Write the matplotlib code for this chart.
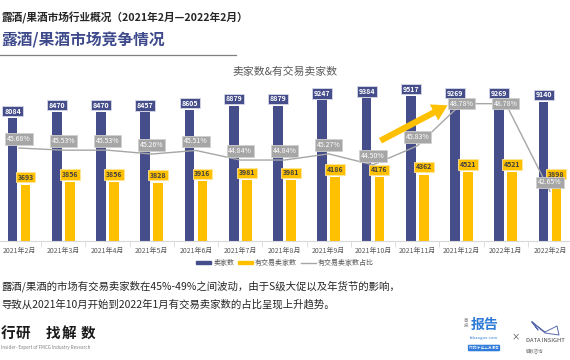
#!/usr/bin/env python3
"""
露酒/果酒市场竞争情况: seller count vs. trading seller count, with share line.
"""

import numpy as np
import matplotlib
matplotlib.use("Agg")
import matplotlib.pyplot as plt
from matplotlib.patches import FancyArrowPatch, Patch
from matplotlib.lines import Line2D

plt.rcParams['font.family'] = ['Noto Sans CJK SC', 'DejaVu Sans']

# Data
months = ['2021年2月', '2021年3月', '2021年4月', '2021年5月', '2021年6月', '2021年7月',
          '2021年8月', '2021年9月', '2021年10月', '2021年11月', '2021年12月',
          '2022年1月', '2022年2月']
sellers = [8084, 8470, 8470, 8457, 8605, 8879, 8879, 9247, 9384, 9517, 9269, 9269, 9140]
trading_sellers = [3693, 3856, 3856, 3828, 3916, 3981, 3981, 4186, 4176, 4362, 4521, 4521, 3898]
trading_share = [45.68, 45.53, 45.53, 45.26, 45.51, 44.84, 44.84, 45.27, 44.50, 45.83,
                 48.78, 48.78, 42.65]

NAVY = '#454E8A'
GOLD = '#FFC000'
GREY = '#A6A6A6'
W, H = 570, 360


def fx(px):
    return px / W


def fy(py):
    return 1 - py / H


fig = plt.figure(figsize=(5.7, 3.6), dpi=100)

# Header
fig.text(fx(1), fy(18), '露酒/果酒市场行业概况（2021年2月—2022年2月）', fontsize=7.7,
         fontweight='bold', color='#262626', va='center', ha='left')
fig.text(fx(1), fy(40), '露酒/果酒市场竞争情况', fontsize=11.3, fontweight='bold',
         color='#3F4A8C', va='center', ha='left')
fig.add_artist(Line2D([0, fx(236)], [fy(55), fy(55)], color='#7F7F7F', lw=0.9))

fig.text(fx(285), fy(72), '卖家数&有交易卖家数', fontsize=7.8, color='#595959',
         ha='center', va='center')

# Chart
x = np.arange(len(months))
ax = fig.add_axes([0, fy(241), 1, (241 - 78) / H])
ax.set_xlim(-19 / 44.25, (W - 19) / 44.25)
ax.set_ylim(0, 10713)

bw = 0.22
off = 0.145
ax.bar(x - off, sellers, width=bw, color=NAVY, zorder=2)
ax.bar(x + off, trading_sellers, width=bw, color=GOLD, zorder=2)

for s in ['top', 'left', 'right']:
    ax.spines[s].set_visible(False)
ax.spines['bottom'].set_color('#D9D9D9')
ax.spines['bottom'].set_linewidth(0.8)
ax.set_yticks([])
ax.set_xticks(x)
ax.set_xticklabels(months, fontsize=5, color='#595959')
ax.tick_params(axis='x', which='major', length=0, pad=4)
ax.set_xticks(x[:-1] + 0.5, minor=True)
ax.tick_params(axis='x', which='minor', length=4, color='#D9D9D9', width=0.6)

for xi, v in zip(x, sellers):
    ax.annotate(str(v), (xi - off, v), xytext=(0, 5), textcoords='offset points',
                ha='center', va='center', fontsize=5, fontweight='bold', color='white',
                bbox=dict(boxstyle='square,pad=0.25', fc=NAVY, ec='#D8DAE8', lw=0.6),
                zorder=5)
for xi, v in zip(x, trading_sellers):
    ax.annotate(str(v), (xi + off, v), xytext=(0, 5.5), textcoords='offset points',
                ha='center', va='center', fontsize=5, fontweight='bold', color='#404040',
                bbox=dict(boxstyle='square,pad=0.25', fc=GOLD, ec='#FFE59A', lw=0.6),
                zorder=5)

# Share line on secondary axis
ax2 = ax.twinx()
ax2.set_ylim(39.18, 50.575)
ax2.axis('off')
ax2.plot(x, trading_share, color=GREY, lw=1.0, zorder=3)
for xi, v in zip(x, trading_share):
    dy = 0 if v > 48 else 6.5
    ax2.annotate(f'{v:.2f}%', (xi, v), xytext=(0, dy), textcoords='offset points',
                 ha='center', va='center', fontsize=5, color='white',
                 bbox=dict(boxstyle='square,pad=0.25', fc=GREY, ec='#D0D0D0', lw=0.6),
                 zorder=6)

# Highlight arrow
arrow = FancyArrowPatch((fx(378), fy(142)), (fx(450), fy(104)),
                        transform=fig.transFigure,
                        arrowstyle='simple,head_length=11,head_width=13,tail_width=4.5',
                        mutation_scale=1, color=GOLD, lw=0)
fig.add_artist(arrow)

# Legend
handles = [Patch(color=NAVY, label='卖家数'),
           Patch(color=GOLD, label='有交易卖家数'),
           Line2D([], [], color=GREY, lw=1, label='有交易卖家数占比')]
fig.legend(handles=handles, loc='center', bbox_to_anchor=(fx(285), fy(263)), ncol=3,
           frameon=False, fontsize=5, handlelength=2.2, handleheight=0.45,
           handletextpad=0.3, columnspacing=0.5, labelcolor='#595959')

# Commentary
fig.text(fx(1), fy(286), '露酒/果酒的市场有交易卖家数在45%-49%之间波动，由于S级大促以及年货节的影响，',
         fontsize=7.5, color='#262626', va='center', ha='left')
fig.text(fx(1), fy(304), '导致从2021年10月开始到2022年1月有交易卖家数的占比呈现上升趋势。',
         fontsize=7.5, color='#262626', va='center', ha='left')

# Footer branding
for cx, ch in zip([8, 23, 53, 69, 88], '行研找解数'):
    fig.text(fx(cx), fy(333), ch, fontsize=10.5, fontweight='bold', color='#1A1A1A',
             ha='center', va='center')
fig.text(fx(1), fy(347), 'Insider- Expert of FMCG Industry Research', fontsize=3.3,
         color='#7F7F7F', ha='left', va='center')

fig.text(fx(466), fy(323), '首\n投', fontsize=3.2, color='#7F7F7F', ha='center',
         va='center', linespacing=1.0)
fig.text(fx(485), fy(325), '报告', fontsize=10, fontweight='bold', color='#2F7BD9',
         ha='center', va='center')
fig.text(fx(484), fy(338), 'fxbaogao.com', fontsize=3, color='#2F7BD9', ha='center',
         va='center')
fig.text(fx(484), fy(348), '你的好 这上方报告', fontsize=2.6, color='white', ha='center',
         va='center', bbox=dict(boxstyle='round,pad=0.35', fc='#2F7BD9', ec='none'))
fig.text(fx(516), fy(337), '×', fontsize=6, color='#404040', ha='center', va='center')
fig.add_artist(Line2D([fx(532), fx(545), fx(557), fx(559), fx(545), fx(532), fx(538), fx(532)],
                      [fy(322), fy(332), fy(326), fy(335), fy(333), fy(322), fy(330), fy(322)],
                      color='#5A6AAE', lw=0.7))
fig.text(fx(526), fy(341), 'DATA INSIGHT', fontsize=4.2, color='#404040', ha='left',
         va='center')
fig.text(fx(526), fy(351), '解数咨询', fontsize=3.2, color='#7F7F7F', ha='left',
         va='center')

plt.savefig('out.png', dpi=100)
